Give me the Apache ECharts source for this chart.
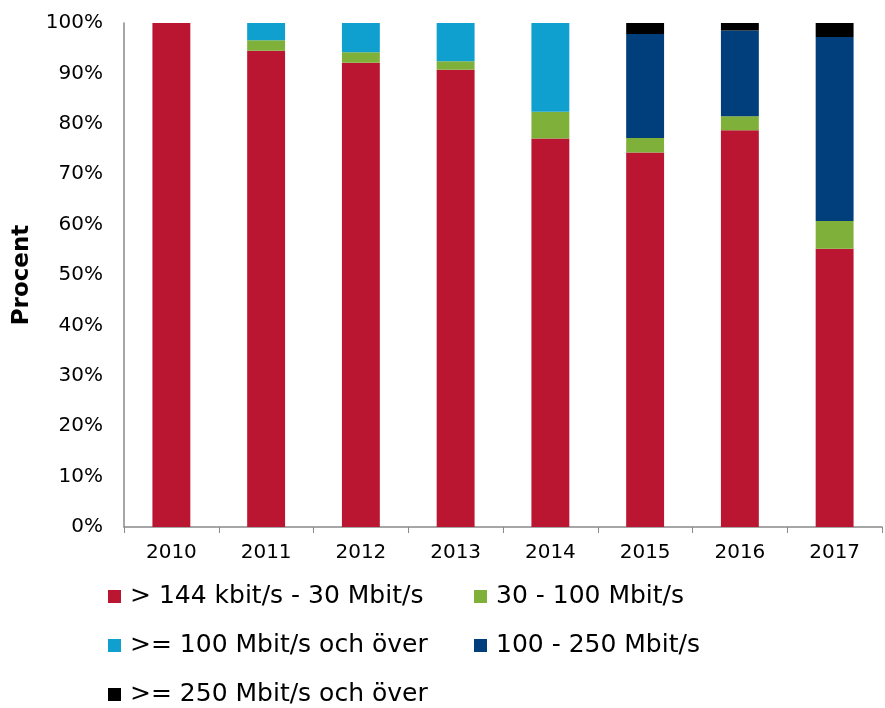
<!DOCTYPE html>
<html lang="sv">
<head>
  <meta charset="UTF-8">
  <title>Procent</title>
  <script src="https://cdn.jsdelivr.net/npm/echarts@6/dist/echarts.min.js"></script>
  <style>
    html, body { margin: 0; padding: 0; background: #fff; }
    #chart { width: 885px; height: 708px; }
  </style>
</head>
<body>
  <div id="chart"></div>
  <script>
    var years = ['2010', '2011', '2012', '2013', '2014', '2015', '2016', '2017'];
    var seriesNames = ['> 144 kbit/s - 30 Mbit/s', '30 - 100 Mbit/s', '>= 100 Mbit/s och över', '100 - 250 Mbit/s', '>= 250 Mbit/s och över'];
    var low = [100, 94.5, 92.1, 90.7, 77.1, 74.3, 78.7, 55.2];
    var mid = [0, 2.1, 2.1, 1.7, 5.3, 2.9, 2.8, 5.5];
    var over100 = [0, 3.4, 5.8, 7.6, 17.6, 0, 0, 0];
    var mid250 = [0, 0, 0, 0, 0, 20.6, 17.0, 36.5];
    var over250 = [0, 0, 0, 0, 0, 2.2, 1.5, 2.8];
    var colors = ['#ba1531', '#7fb03a', '#10a0d0', '#003f7b', '#000000'];

    var values = [low, mid, over100, mid250, over250];
    var font = "'DejaVu Sans', Verdana, sans-serif";

    var series = values.map(function (arr, i) {
      return {
        name: seriesNames[i],
        type: 'bar',
        stack: 'total',
        barWidth: '40%',
        itemStyle: { color: colors[i] },
        data: arr
      };
    });

    // one legend per item so they sit in two columns
    var legendPos = [[108, 584], [474, 584], [108, 633], [474, 633], [108, 682]];
    var legends = seriesNames.map(function (n, i) {
      return {
        data: [n],
        left: legendPos[i][0],
        top: legendPos[i][1],
        padding: 0,
        icon: 'rect',
        itemWidth: 13,
        itemHeight: 13,
        itemGap: 0,
        textStyle: { fontSize: 25, color: '#000', fontFamily: font, padding: [0, 0, 0, 4] }
      };
    });

    var chart = echarts.init(document.getElementById('chart'));
    chart.setOption({
      animation: false,
      color: colors,
      legend: legends,
      grid: { left: 124, right: 3, top: 23, bottom: 181, containLabel: false },
      xAxis: {
        type: 'category',
        data: years,
        axisLine: { lineStyle: { color: '#898989', width: 1.5 } },
        axisTick: { show: true, length: 6, lineStyle: { color: '#898989' } },
        axisLabel: { fontSize: 20, color: '#000', fontFamily: font, margin: 16 }
      },
      yAxis: {
        type: 'value',
        min: 0,
        max: 100,
        interval: 10,
        name: 'Procent',
        nameLocation: 'middle',
        nameGap: 90,
        nameTextStyle: { fontSize: 23, fontWeight: 'bold', color: '#000', fontFamily: font },
        axisLine: { show: true, lineStyle: { color: '#898989', width: 1.5 } },
        axisTick: { show: false },
        splitLine: { show: false },
        axisLabel: { fontSize: 20, color: '#000', fontFamily: font, margin: 21, formatter: '{value}%' }
      },
      series: series
    });
  </script>
</body>
</html>
